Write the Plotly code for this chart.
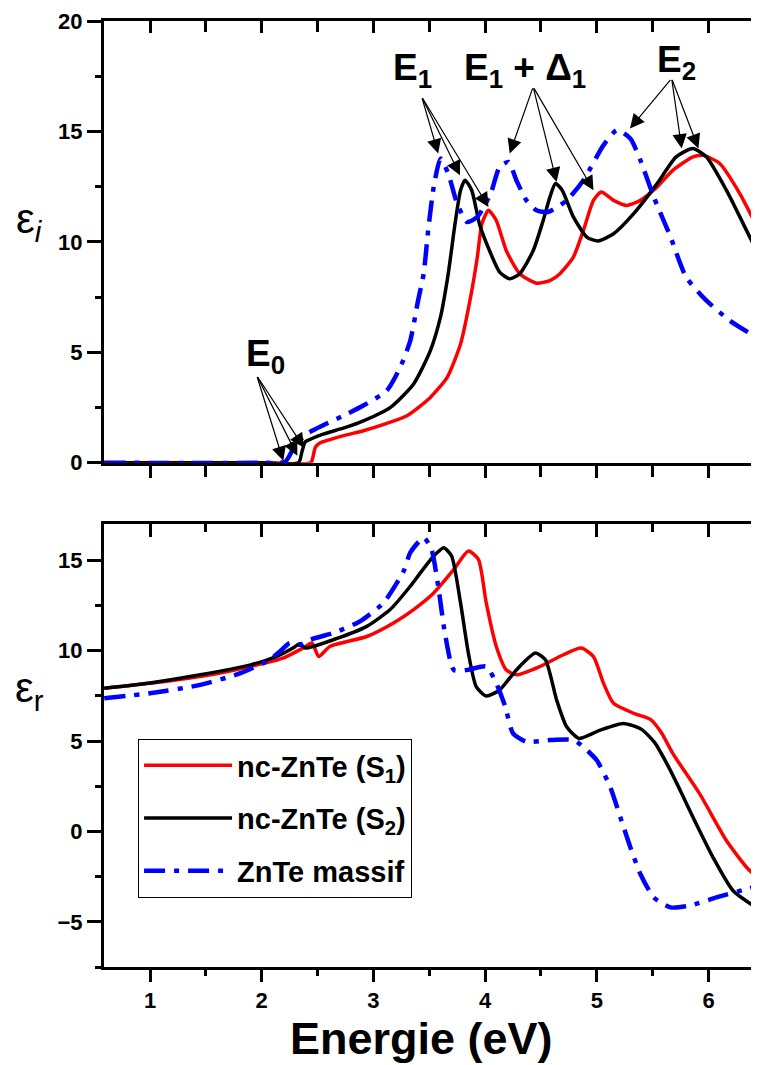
import plotly.graph_objects as go

# ---- epsilon_i (top panel), energies in eV ----
ei_s1_x = [0.59, 2.0, 2.44, 2.46, 2.48, 2.52, 2.61, 2.75, 2.91, 3.10, 3.30, 3.51, 3.66, 3.78, 3.87, 3.93, 3.97,
           4.03, 4.10, 4.19, 4.31, 4.46, 4.58, 4.67, 4.79, 4.88, 4.97, 5.04, 5.15, 5.27, 5.39, 5.54, 5.68, 5.86,
           5.95, 6.10, 6.28, 6.45]
ei_s1_y = [0, 0, 0, 0.3, 0.7, 0.9, 1.05, 1.25, 1.45, 1.75, 2.13, 2.96, 3.87, 5.38, 7.5, 9.3, 10.8,
           11.43, 10.97, 9.6, 8.56, 8.13, 8.25, 8.56, 9.31, 10.52, 11.88, 12.26, 11.88, 11.65, 11.88, 12.49, 13.24, 13.85,
           13.92, 13.55, 12.19, 10.52]

ei_s2_x = [0.59, 2.0, 2.33, 2.36, 2.39, 2.45, 2.55, 2.75, 2.91, 3.15, 3.36, 3.51, 3.60, 3.67, 3.73, 3.78, 3.82,
           3.88, 3.95, 4.04, 4.13, 4.22, 4.31, 4.43, 4.52, 4.58, 4.63, 4.69, 4.79, 4.91, 5.01, 5.15, 5.33, 5.54,
           5.71, 5.86, 5.98, 6.16, 6.34, 6.45]
ei_s2_y = [0, 0, 0, 0.5, 0.95, 1.1, 1.3, 1.6, 1.9, 2.5, 3.57, 5.08, 6.59, 8.56, 10.8, 12.34, 12.79,
           12.34, 10.8, 9.6, 8.63, 8.33, 8.56, 9.6, 10.97, 12.03, 12.64, 12.34, 11.13, 10.22, 10.04, 10.37, 11.28, 12.64,
           13.85, 14.23, 13.85, 12.34, 10.52, 9.39]

ei_bulk_x = [0.59, 2.0, 2.21, 2.30, 2.40, 2.55, 2.76, 2.91, 3.12, 3.24, 3.33, 3.40, 3.45, 3.49, 3.54, 3.60, 3.67,
             3.75, 3.84, 3.93, 4.05, 4.13, 4.21, 4.28, 4.37, 4.46, 4.56, 4.73, 4.88, 5.06, 5.18, 5.30, 5.39, 5.51,
             5.66, 5.80, 5.98, 6.19, 6.45]
ei_bulk_y = [0, 0, 0.05, 0.8, 1.3, 1.7, 2.2, 2.59, 3.27, 4.32, 5.53, 7.35, 8.56, 10.52, 12.49, 13.77, 13.09,
             11.73, 10.9, 11.13, 12.19, 13.39, 13.62, 12.79, 11.88, 11.43, 11.35, 11.88, 12.79, 14.38, 15.06, 14.68, 13.70, 12.03,
             10.22, 8.40, 7.35, 6.44, 5.61]

# ---- epsilon_r (bottom panel) ----
er_s1_x = [0.59, 1.0, 1.45, 1.90, 2.19, 2.37, 2.45, 2.51, 2.61, 2.94, 3.18, 3.36, 3.54, 3.72, 3.85, 3.94, 4.01,
           4.10, 4.19, 4.28, 4.49, 4.70, 4.86, 4.97, 5.06, 5.15, 5.33, 5.48, 5.58, 5.68, 5.92, 6.16, 6.34, 6.45]
er_s1_y = [7.93, 8.2, 8.57, 9.13, 9.59, 10.15, 10.43, 9.68, 10.24, 10.79, 11.54, 12.28, 13.2, 14.5, 15.52, 15.06, 12.65,
           10.24, 8.94, 8.67, 9.13, 9.78, 10.15, 9.68, 8.2, 7.09, 6.54, 6.2, 5.45, 4.32, 2.09, -0.5, -1.98, -2.63]

er_s2_x = [0.59, 1.0, 1.45, 1.90, 2.13, 2.28, 2.34, 2.39, 2.64, 2.94, 3.15, 3.33, 3.42, 3.54, 3.63, 3.70, 3.78,
           3.85, 3.92, 4.01, 4.13, 4.28, 4.45, 4.54, 4.64, 4.73, 4.84, 5.03, 5.24, 5.40, 5.52, 5.64, 5.76, 5.86,
           6.04, 6.22, 6.45]
er_s2_y = [7.93, 8.22, 8.67, 9.22, 9.68, 10.15, 10.39, 10.15, 10.61, 11.35, 12.28, 13.57, 14.31, 15.24, 15.7, 15.24, 12.65,
           9.87, 8.02, 7.5, 7.83, 8.94, 9.87, 9.5, 7.28, 5.79, 5.15, 5.61, 5.98, 5.65, 4.9, 3.6, 2.1, 0.8,
           -1.43, -3.28, -4.3]

er_bulk_x = [0.59, 1.0, 1.45, 1.81, 2.07, 2.18, 2.25, 2.34, 2.43, 2.64, 2.88, 3.09, 3.27, 3.33, 3.45, 3.52, 3.58,
             3.64, 3.72, 3.84, 4.01, 4.10, 4.18, 4.25, 4.37, 4.58, 4.79, 4.86, 5.0, 5.12, 5.21, 5.30, 5.39, 5.51,
             5.66, 5.83, 6.07, 6.34, 6.45]
er_bulk_y = [7.37, 7.65, 8.11, 8.76, 9.5, 10.06, 10.43, 10.33, 10.61, 10.98, 11.63, 12.65, 14.4, 15.43, 16.26, 15.6, 13.57,
             10.98, 8.94, 8.94, 9.13, 8.2, 6.91, 5.43, 4.96, 5.06, 5.06, 4.78, 3.94, 2.46, 0.8, -0.87, -2.35, -3.65,
             -4.2, -4.11, -3.65, -3.19, -3.0]

names = ['nc-ZnTe (S<sub>1</sub>)', 'nc-ZnTe (S<sub>2</sub>)', 'ZnTe massif']

# transition labels: (text, x, y) and arrows: tail (x, y) -> list of tips
labels = [('E<sub>0</sub>', 2.03, 4.85), ('E<sub>1</sub>', 3.35, 17.8),
          ('E<sub>1</sub> + Δ<sub>1</sub>', 4.36, 17.8), ('E<sub>2</sub>', 5.71, 18.15)]
arrows = [((1.955, 3.95), [(2.193, 0.09), (2.319, 0.32), (2.379, 0.68)]),
          ((3.432, 16.57), [(3.58, 14.0), (3.775, 13.02), (4.03, 11.58)]),
          ((4.43, 17.02), [(4.22, 14.0), (4.64, 12.71), (4.97, 12.34)]),
          ((5.67, 17.4), [(5.297, 15.13), (5.76, 14.23), (5.91, 14.23)])]

FONT = 'Liberation Sans, Arial, sans-serif'
XR = [0.588, 6.452]

fig = go.Figure()


def curve(x, y, color, dash, name, xa, ya, legend):
    fig.add_trace(go.Scatter(x=x, y=y, mode='lines', name=name, xaxis=xa, yaxis=ya,
                             line=dict(color=color, width=3.5 if dash == 'solid' else 4.5, dash=dash,
                                       shape='spline', smoothing=0.6),
                             showlegend=legend, legendgroup=name, hoverinfo='skip'))


dashdot = '21px,9px,5px,9px'
# top panel
curve(ei_s1_x, ei_s1_y, '#FF0000', 'solid', names[0], 'x', 'y', False)
curve(ei_s2_x, ei_s2_y, '#000000', 'solid', names[1], 'x', 'y', False)
curve(ei_bulk_x, ei_bulk_y, '#0000FF', dashdot, names[2], 'x3', 'y', False)
# bottom panel
curve(er_s1_x, er_s1_y, '#FF0000', 'solid', names[0], 'x2', 'y2', True)
curve(er_s2_x, er_s2_y, '#000000', 'solid', names[1], 'x2', 'y2', True)
curve(er_bulk_x, er_bulk_y, '#0000FF', dashdot, names[2], 'x4', 'y2', True)

tickfont = dict(family=FONT, size=22, color='black', weight='bold')
common_x = dict(range=XR, dtick=1, tick0=0, showgrid=False, zeroline=False, showline=True,
                linecolor='black', linewidth=3, tickcolor='black', tickwidth=2.5, ticklen=12,
                tickfont=tickfont)
common_y = dict(dtick=5, tick0=0, showgrid=False, zeroline=False, showline=True,
                linecolor='black', linewidth=3, tickcolor='black', tickwidth=2.5, ticklen=14,
                ticks='outside', tickfont=tickfont,
                minor=dict(dtick=2.5, ticks='outside', ticklen=6, tickwidth=2.5, tickcolor='black'))

# the page adds an 8px body margin, so the figure is 8px smaller and margins shifted
fig.update_layout(
    width=751, height=1057,
    margin=dict(l=96, r=0, t=13, b=98),
    paper_bgcolor='white', plot_bgcolor='white',
    xaxis=dict(common_x, anchor='y', ticks='outside', showticklabels=False,
               minor=dict(dtick=0.5, ticks='outside', ticklen=11, tickwidth=2.5, tickcolor='black')),
    xaxis3=dict(common_x, anchor='y', overlaying='x', side='top', ticks='inside', showticklabels=False,
                minor=dict(dtick=0.5, ticks='inside', ticklen=11, tickwidth=2.5, tickcolor='black')),
    yaxis=dict(common_y, domain=[0.533, 1], range=[0, 20], anchor='x'),
    xaxis2=dict(common_x, anchor='y2', ticks='outside', ticklabelstandoff=0,
                minor=dict(dtick=0.5, ticks='outside', ticklen=6, tickwidth=2.5, tickcolor='black')),
    xaxis4=dict(common_x, anchor='y2', overlaying='x2', side='top', ticks='inside', showticklabels=False,
                ticklen=13, minor=dict(dtick=0.5, ticks='inside', ticklen=8, tickwidth=2.5, tickcolor='black')),
    yaxis2=dict(common_y, domain=[0, 0.468], range=[-7.5, 17], anchor='x2'),
    legend=dict(x=0.052, y=0.241, xanchor='left', yanchor='top', bgcolor='white',
                bordercolor='black', borderwidth=1, tracegroupgap=12, itemwidth=88,
                font=dict(family=FONT, size=29, color='black', weight='bold')),
    showlegend=True,
)

ann = []
for text, x, y in labels:
    ann.append(dict(text=text, x=x, y=y, xref='x', yref='y', showarrow=False,
                    font=dict(family=FONT, size=37, color='black', weight='bold')))
for (tx, ty), tips in arrows:
    for hx, hy in tips:
        ann.append(dict(text='', x=hx, y=hy, xref='x', yref='y', ax=tx, ay=ty, axref='x', ayref='y',
                        showarrow=True, arrowhead=2, arrowsize=2.4, arrowwidth=1.2,
                        arrowcolor='black', standoff=0, startstandoff=0))
ann.append(dict(text='ε<sub><i>i</i></sub>', x=-0.113, y=0.818, xref='paper', yref='paper',
                xanchor='center', showarrow=False, font=dict(family=FONT, size=42, color='black')))
ann.append(dict(text='ε<sub>r</sub>', x=-0.113, y=0.262, xref='paper', yref='paper',
                xanchor='center', showarrow=False, font=dict(family=FONT, size=42, color='black')))
ann.append(dict(text='Energie (eV)', x=0.484, y=-0.0755, xref='paper', yref='paper',
                xanchor='center', yanchor='middle', showarrow=False,
                font=dict(family=FONT, size=45, color='black', weight='bold')))
fig.update_layout(annotations=ann)

fig.write_html("out.html")
